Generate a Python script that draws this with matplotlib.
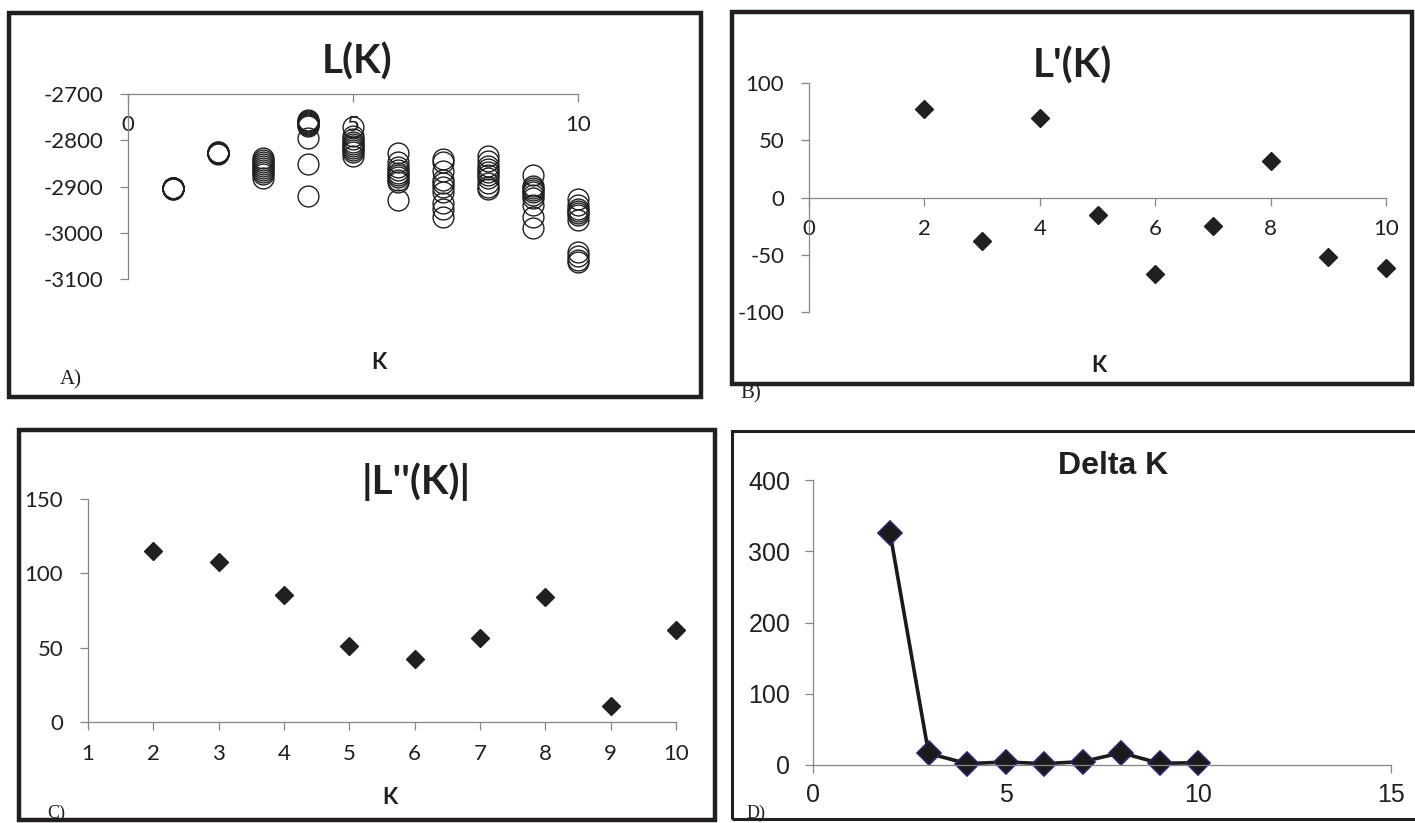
import matplotlib
matplotlib.use('Agg')
import matplotlib.pyplot as plt
from matplotlib.patches import Rectangle

## Values
k_values = [1, 2, 3, 4, 5, 6, 7, 8, 9, 10]

# L(K), one list of runs per K
lk_k1 = [-2903, -2904, -2904, -2905, -2904, -2903, -2905, -2904, -2904, -2903]
lk_k2 = [-2826, -2827, -2827, -2828, -2827, -2826, -2828, -2827, -2829, -2827]
lk_k3 = [-2838, -2843, -2848, -2852, -2856, -2860, -2864, -2868, -2873, -2881]
lk_k4 = [-2756, -2758, -2760, -2762, -2765, -2767, -2770, -2795, -2851, -2921]
lk_k5 = [-2771, -2790, -2798, -2803, -2808, -2812, -2816, -2820, -2826, -2833]
lk_k6 = [-2827, -2848, -2858, -2865, -2870, -2875, -2880, -2885, -2890, -2930]
lk_k7 = [-2840, -2848, -2866, -2885, -2893, -2900, -2912, -2935, -2948, -2965]
lk_k8 = [-2833, -2845, -2855, -2862, -2868, -2875, -2882, -2892, -2900, -2906]
lk_k9 = [-2875, -2898, -2903, -2907, -2912, -2918, -2925, -2940, -2965, -2990]
lk_k10 = [-2927, -2940, -2948, -2953, -2957, -2962, -2972, -3041, -3050, -3058, -3064]
lk_runs = [lk_k1, lk_k2, lk_k3, lk_k4, lk_k5, lk_k6, lk_k7, lk_k8, lk_k9, lk_k10]

k_diff = [2, 3, 4, 5, 6, 7, 8, 9, 10]
l_prime = [77.6, -37.8, 69.8, -15.4, -66.9, -24.7, 32.0, -51.7, -61.9]
l_second = [114.9, 107.8, 85.2, 51.4, 42.5, 56.8, 84.1, 10.5, 61.9]
delta_k = [325.5, 16.3, 1.9, 4.2, 1.9, 4.7, 17.2, 2.3, 3.3]

W, H = 1415, 823
INK = '#231f20'
AXIS = '#868686'
CALIBRI = ['Lato', 'DejaVu Sans']
ARIAL = ['Liberation Sans', 'DejaVu Sans']
TIMES = ['Liberation Serif', 'DejaVu Serif']


def box(left, top, right, bottom):
    # pixel box -> figure fraction
    return [left / W, 1 - bottom / H, (right - left) / W, (bottom - top) / H]


def frame(fig, left, top, right, bottom, lw):
    fig.add_artist(Rectangle((left / W, 1 - bottom / H), (right - left) / W,
                             (bottom - top) / H, transform=fig.transFigure,
                             fill=False, lw=lw, ec=INK, zorder=0))


def label(fig, x, y, s, **kw):
    fig.text(x / W, 1 - y / H, s, ha='center', va='center', color=INK, **kw)


def style_axes(ax, xpad, ypad):
    for side in ['top', 'right']:
        ax.spines[side].set_visible(False)
    for side in ['left', 'bottom']:
        ax.spines[side].set_color(AXIS)
        ax.spines[side].set_linewidth(0.9)
    ax.tick_params(direction='out', length=5.8, width=0.9, color=AXIS)
    ax.tick_params(axis='x', pad=xpad)
    ax.tick_params(axis='y', pad=ypad)
    ax.patch.set_alpha(0)


def set_ticks(ax, xticks, yticks, family, size):
    ax.set_xticks(xticks, [str(t) for t in xticks], fontfamily=family,
                  fontsize=size, color=INK)
    ax.set_yticks(yticks, [str(t) for t in yticks], fontfamily=family,
                  fontsize=size, color=INK)


def plot_A(fig):
    ax = fig.add_axes(box(128, 94, 578, 279))
    for k, runs in zip(k_values, lk_runs):
        ax.plot([k] * len(runs), runs, 'o', mfc='none', mec=INK, ms=15,
                mew=1.0, clip_on=False)
    ax.set_xlim(0, 10)
    ax.set_ylim(-3100, -2700)
    ax.spines['bottom'].set_position(('data', -2700))
    style_axes(ax, 9, 12)
    set_ticks(ax, [0, 5, 10], [-3100, -3000, -2900, -2800, -2700], CALIBRI, 16)
    label(fig, 357, 62, 'L(K)', fontfamily=CALIBRI, fontsize=29, fontweight='bold')
    label(fig, 379, 362, 'K', fontfamily=CALIBRI, fontsize=16, fontweight='bold')
    label(fig, 71, 380, 'A)', fontfamily=TIMES, fontsize=15)


def plot_B(fig):
    ax = fig.add_axes(box(809, 83, 1386, 312))
    ax.plot(k_diff, l_prime, 'D', color=INK, ms=9, clip_on=False)
    ax.set_xlim(0, 10)
    ax.set_ylim(-100, 100)
    ax.spines['bottom'].set_position(('data', 0))
    style_axes(ax, 10, 12)
    set_ticks(ax, [0, 2, 4, 6, 8, 10], [-100, -50, 0, 50, 100], CALIBRI, 16)
    label(fig, 1072, 66, "L'(K)", fontfamily=CALIBRI, fontsize=29, fontweight='bold')
    label(fig, 1099, 365, 'K', fontfamily=CALIBRI, fontsize=16, fontweight='bold')
    label(fig, 751, 394, 'B)', fontfamily=TIMES, fontsize=15)


def plot_C(fig):
    ax = fig.add_axes(box(88, 499, 676, 722))
    ax.plot(k_diff, l_second, 'D', color=INK, ms=9, clip_on=False)
    ax.set_xlim(1, 10)
    ax.set_ylim(0, 150)
    style_axes(ax, 10, 12)
    set_ticks(ax, k_values, [0, 50, 100, 150], CALIBRI, 16)
    label(fig, 416, 482, "|L''(K)|", fontfamily=CALIBRI, fontsize=29, fontweight='bold')
    label(fig, 390, 798, 'K', fontfamily=CALIBRI, fontsize=16, fontweight='bold')
    label(fig, 56, 813, 'C)', fontfamily=TIMES, fontsize=13)


def plot_D(fig):
    ax = fig.add_axes(box(813, 480, 1391, 765))
    ax.plot(k_diff, delta_k, '-D', color='#1a1a1a', lw=2.6, ms=12,
            mfc='#1a1a1a', mec='#24246e', mew=1.2, clip_on=False)
    ax.set_xlim(0, 15)
    ax.set_ylim(0, 400)
    style_axes(ax, 7.5, 10.5)
    set_ticks(ax, [0, 5, 10, 15], [0, 100, 200, 300, 400], ARIAL, 18)
    label(fig, 1113, 466, 'Delta K', fontfamily=ARIAL, fontsize=23, fontweight='bold')
    label(fig, 756, 813, 'D)', fontfamily=TIMES, fontsize=13)


def main():
    fig = plt.figure(figsize=(W / 100, H / 100), dpi=100)
    fig.patch.set_facecolor('white')

    frame(fig, 9, 13, 701, 397, 3.2)
    frame(fig, 732, 12, 1412, 384, 3.2)
    frame(fig, 19, 430, 715, 820, 3.2)
    frame(fig, 732, 431, 1425, 819, 2.2)

    plot_A(fig)
    plot_B(fig)
    plot_C(fig)
    plot_D(fig)

    fig.savefig('out.png', dpi=100)
    plt.close(fig)


if __name__ == "__main__":
    main()
